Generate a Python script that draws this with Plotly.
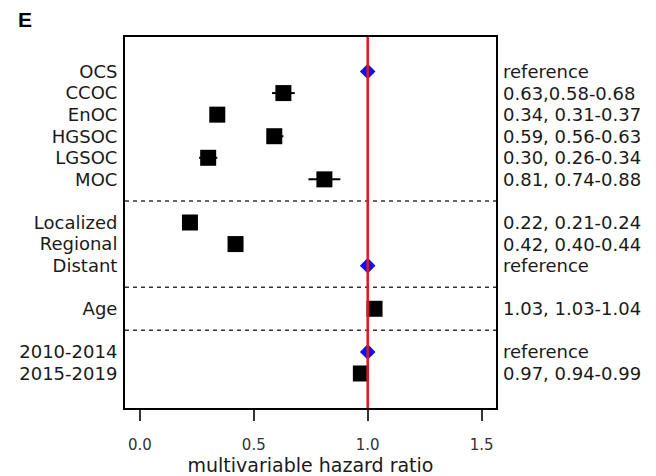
import plotly.graph_objects as go

# ---- data ----
row_labels = ["OCS", "CCOC", "EnOC", "HGSOC", "LGSOC", "MOC",
              "Localized", "Regional", "Distant",
              "Age",
              "2010-2014", "2015-2019"]
row_pos = [1, 2, 3, 4, 5, 6, 8, 9, 10, 12, 14, 15]
hr = [1.00, 0.63, 0.34, 0.59, 0.30, 0.81, 0.22, 0.42, 1.00, 1.03, 1.00, 0.97]
ci_low = [None, 0.58, 0.31, 0.56, 0.26, 0.74, 0.21, 0.40, None, 1.03, None, 0.94]
ci_high = [None, 0.68, 0.37, 0.63, 0.34, 0.88, 0.24, 0.44, None, 1.04, None, 0.99]
is_ref = [True, False, False, False, False, False, False, False, True, False, True, False]
right_text = ["reference", "0.63,0.58-0.68", "0.34, 0.31-0.37", "0.59, 0.56-0.63",
              "0.30, 0.26-0.34", "0.81, 0.74-0.88", "0.22, 0.21-0.24", "0.42, 0.40-0.44",
              "reference", "1.03, 1.03-1.04", "reference", "0.97, 0.94-0.99"]
separator_pos = [7, 11, 13]
x_ticks = [0.0, 0.5, 1.0, 1.5]
x_tick_text = ["0.0", "0.5", "1.0", "1.5"]

ROWFONT = "DejaVu Sans"
TXT = "#1a1a1a"

fig = go.Figure()

# estimates with CI
ex, ey, ep, em = [], [], [], []
rx, ry = [], []
for p, h, lo, hi, r in zip(row_pos, hr, ci_low, ci_high, is_ref):
    if r:
        rx.append(h); ry.append(p)
    else:
        ex.append(h); ey.append(p)
        ep.append(hi - h); em.append(h - lo)

fig.add_trace(go.Scatter(
    x=ex, y=ey, mode="markers",
    marker=dict(symbol="square", size=16, color="black"),
    error_x=dict(type="data", array=ep, arrayminus=em, thickness=2, width=0, color="black"),
    showlegend=False, hoverinfo="skip"))

# reference line
fig.add_shape(type="line", x0=1, x1=1, y0=0, y1=1, xref="x", yref="paper",
              line=dict(color="#e8141c", width=2.5), layer="above")

fig.add_trace(go.Scatter(
    x=rx, y=ry, mode="markers",
    marker=dict(symbol="diamond", size=12, color="#0a14f0"),
    showlegend=False, hoverinfo="skip"))

for s in separator_pos:
    fig.add_shape(type="line", x0=0, x1=1, xref="paper", y0=s, y1=s, yref="y",
                  line=dict(color="#333333", width=1.5, dash="4px,4px"), layer="below")

for p, t in zip(row_pos, right_text):
    fig.add_annotation(x=1, xref="paper", y=p, yref="y", text=t, showarrow=False,
                       xanchor="left", xshift=5, font=dict(family=ROWFONT, size=18, color=TXT))

fig.add_annotation(x=0, xref="paper", y=1, yref="paper", text="<b>E</b>", showarrow=False,
                   xanchor="left", yanchor="middle", xshift=-109, yshift=18,
                   font=dict(family="Liberation Sans", size=21, color="black"))

fig.update_layout(
    width=656, height=476,
    margin=dict(l=125, r=160, t=37, b=68),
    plot_bgcolor="white", paper_bgcolor="white",
    font=dict(family=ROWFONT, color=TXT),
    xaxis=dict(range=[-0.065, 1.563], tickvals=x_ticks, ticktext=x_tick_text,
               showgrid=False, zeroline=False, showline=True, mirror=True,
               linecolor="black", linewidth=2, ticks="outside", ticklen=11,
               tickwidth=1.5, tickcolor="#333333", ticklabelstandoff=11,
               automargin=False,
               tickfont=dict(family=ROWFONT, size=15, color="#333333"),
               title=dict(text="multivariable hazard ratio",
                          font=dict(family=ROWFONT, size=19, color=TXT), standoff=3)),
    yaxis=dict(range=[16.6, -0.6], tickvals=row_pos, ticktext=row_labels,
               showgrid=False, zeroline=False, showline=True, mirror=True,
               linecolor="black", linewidth=2, ticks="", ticklabelstandoff=2,
               automargin=False,
               tickfont=dict(family=ROWFONT, size=18, color=TXT)),
)

fig.write_html("out.html")
